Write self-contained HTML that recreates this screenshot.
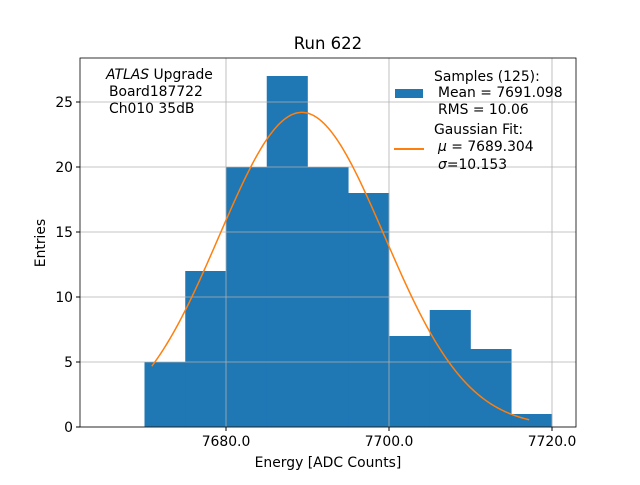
<!DOCTYPE html>
<html><head><style>body{margin:0;background:#fff}svg text{font-family:"DejaVu Sans","Liberation Sans",sans-serif}</style></head>
<body>
<svg id="c" width="640" height="480" xmlns="http://www.w3.org/2000/svg">
<rect width="640" height="480" fill="#fff"/>
<g id="bars"></g><g id="grid"></g><g id="curve"></g><g id="axes"></g>
<text x="328" y="49" font-size="16.5" text-anchor="middle">Run 622</text>
<text x="328" y="467" font-size="13.9" text-anchor="middle">Energy [ADC Counts]</text>
<text transform="translate(45,243) rotate(-90)" font-size="13.9" text-anchor="middle">Entries</text>
<g font-size="13.9">
<text x="106" y="79"><tspan font-style="italic">ATLAS</tspan> Upgrade</text>
<text x="109" y="96">Board187722</text>
<text x="109" y="113">Ch010 35dB</text>
</g>
<g font-size="13.9">
<rect x="395" y="89" width="28" height="9" fill="#1f77b4"/>
<text x="434" y="81">Samples (125):</text>
<text x="438" y="97">Mean = 7691.098</text>
<text x="438" y="114">RMS = 10.06</text>
<line x1="394" y1="149" x2="424" y2="149" stroke="#ff7f0e" stroke-width="2"/>
<text x="434" y="134">Gaussian Fit:</text>
<text x="438" y="151"><tspan font-style="italic">μ</tspan> = 7689.304</text>
<text x="438" y="169"><tspan font-style="italic">σ</tspan>=10.153</text>
</g>
</svg>
<script>
const binEdges=[7670,7675,7680,7685,7690,7695,7700,7705,7710,7715];
const counts=[5,12,20,27,20,18,7,9,6,1];
const binWidth=5;
const fitMu=7689.304, fitSigma=10.153, fitAmp=24.2;
const fitRange=[7670.9,7717.2];
const xTicks=[7680,7700,7720];
const xTickLabels=["7680.0","7700.0","7720.0"];
const yTicks=[0,5,10,15,20,25];
const L=80,R=576,T=58,B=427;
const sx=v=>226+(v-7680)*8.15;
const sy=v=>427-v*13;
const ns="http://www.w3.org/2000/svg";
function mk(t,a,p){const e=document.createElementNS(ns,t);for(const k in a)e.setAttribute(k,a[k]);document.getElementById(p).appendChild(e);return e;}
binEdges.forEach((x0,i)=>{
 const e=mk('rect',{x:sx(x0),y:sy(counts[i]),width:sx(x0+binWidth)-sx(x0)+0.3,height:sy(0)-sy(counts[i]),fill:'#1f77b4'},'bars');
 
 
});
xTicks.forEach((v,i)=>{
 const g=mk('line',{x1:sx(v),x2:sx(v),y1:T,y2:B,stroke:'#b0b0b0','stroke-width':0.8},'grid');
 
 mk('line',{x1:sx(v),x2:sx(v),y1:B,y2:B+4,stroke:'#000'},'axes');
 const t=mk('text',{x:sx(v),y:B+19,'font-size':13.9,'text-anchor':'middle'},'axes');t.textContent=xTickLabels[i];
 
});
yTicks.forEach(v=>{
 const g=mk('line',{x1:L,x2:R,y1:sy(v),y2:sy(v),stroke:'#b0b0b0','stroke-width':0.8},'grid');
 
 mk('line',{x1:L-4,x2:L,y1:sy(v),y2:sy(v),stroke:'#000'},'axes');
 const t=mk('text',{x:L-7,y:sy(v)+5,'font-size':13.9,'text-anchor':'end'},'axes');t.textContent=v;
 
});
let d='';
for(let i=0;i<=200;i++){const x=fitRange[0]+(fitRange[1]-fitRange[0])*i/200;const y=fitAmp*Math.exp(-0.5*((x-fitMu)/fitSigma)**2);d+=(i?'L':'M')+sx(x).toFixed(2)+','+sy(y).toFixed(2);}
const c=mk('path',{d:d,fill:'none',stroke:'#ff7f0e','stroke-width':1.5},'curve');

const f=mk('rect',{x:L,y:T,width:R-L,height:B-T,fill:'none',stroke:'#000','stroke-width':0.8},'axes');

</script>
</body></html>
